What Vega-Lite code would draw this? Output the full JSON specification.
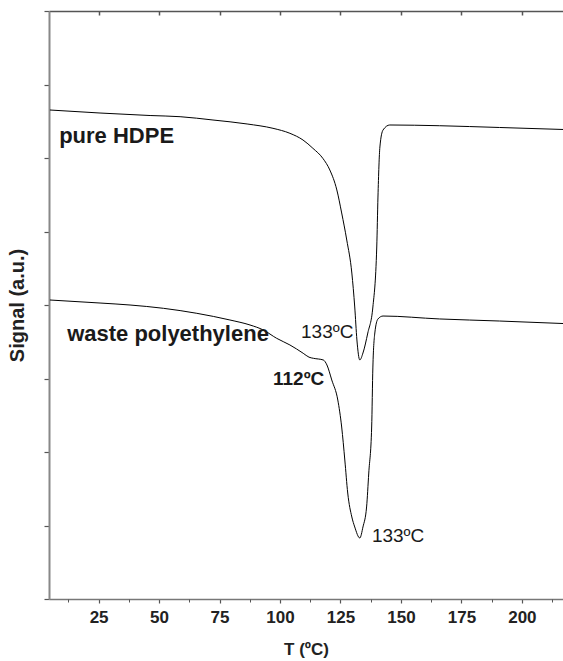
{
  "$schema": "https://vega.github.io/schema/vega-lite/v6.json",
  "width": 514,
  "height": 588,
  "autosize": {"type": "none"},
  "padding": {"left": 49, "top": 11, "right": 0, "bottom": 62},
  "background": "white",
  "config": {
    "view": {"stroke": null},
    "font": "Liberation Sans",
    "axis": {"grid": false}
  },
  "datasets": {
    "curves": [
      {"sample": "pure HDPE", "T": 4.9, "signal": 6.653},
      {"sample": "pure HDPE", "T": 25.6, "signal": 6.612},
      {"sample": "pure HDPE", "T": 46.3, "signal": 6.578},
      {"sample": "pure HDPE", "T": 58.7, "signal": 6.562},
      {"sample": "pure HDPE", "T": 72.3, "signal": 6.517},
      {"sample": "pure HDPE", "T": 86.4, "signal": 6.463},
      {"sample": "pure HDPE", "T": 97.1, "signal": 6.404},
      {"sample": "pure HDPE", "T": 104.1, "signal": 6.336},
      {"sample": "pure HDPE", "T": 109.5, "signal": 6.245},
      {"sample": "pure HDPE", "T": 113.6, "signal": 6.132},
      {"sample": "pure HDPE", "T": 117.7, "signal": 5.996},
      {"sample": "pure HDPE", "T": 120.6, "signal": 5.837},
      {"sample": "pure HDPE", "T": 123.5, "signal": 5.565},
      {"sample": "pure HDPE", "T": 125.5, "signal": 5.252},
      {"sample": "pure HDPE", "T": 127.6, "signal": 4.884},
      {"sample": "pure HDPE", "T": 129.7, "signal": 4.435},
      {"sample": "pure HDPE", "T": 130.9, "signal": 3.973},
      {"sample": "pure HDPE", "T": 131.8, "signal": 3.524},
      {"sample": "pure HDPE", "T": 133.0, "signal": 3.252},
      {"sample": "pure HDPE", "T": 134.3, "signal": 3.347},
      {"sample": "pure HDPE", "T": 136.3, "signal": 3.619},
      {"sample": "pure HDPE", "T": 138.4, "signal": 3.973},
      {"sample": "pure HDPE", "T": 140.0, "signal": 4.789},
      {"sample": "pure HDPE", "T": 140.5, "signal": 5.469},
      {"sample": "pure HDPE", "T": 141.3, "signal": 6.15},
      {"sample": "pure HDPE", "T": 142.6, "signal": 6.381},
      {"sample": "pure HDPE", "T": 145.4, "signal": 6.449},
      {"sample": "pure HDPE", "T": 166.0, "signal": 6.439},
      {"sample": "pure HDPE", "T": 190.8, "signal": 6.415},
      {"sample": "pure HDPE", "T": 217.0, "signal": 6.388},
      {"sample": "waste polyethylene", "T": 4.9, "signal": 4.068},
      {"sample": "waste polyethylene", "T": 25.6, "signal": 4.027},
      {"sample": "waste polyethylene", "T": 38.0, "signal": 4.0},
      {"sample": "waste polyethylene", "T": 51.8, "signal": 3.955},
      {"sample": "waste polyethylene", "T": 65.6, "signal": 3.887},
      {"sample": "waste polyethylene", "T": 79.3, "signal": 3.796},
      {"sample": "waste polyethylene", "T": 87.6, "signal": 3.728},
      {"sample": "waste polyethylene", "T": 93.1, "signal": 3.66},
      {"sample": "waste polyethylene", "T": 98.6, "signal": 3.547},
      {"sample": "waste polyethylene", "T": 104.1, "signal": 3.456},
      {"sample": "waste polyethylene", "T": 109.6, "signal": 3.343},
      {"sample": "waste polyethylene", "T": 112.0, "signal": 3.29},
      {"sample": "waste polyethylene", "T": 113.8, "signal": 3.275},
      {"sample": "waste polyethylene", "T": 117.9, "signal": 3.252},
      {"sample": "waste polyethylene", "T": 119.4, "signal": 3.184},
      {"sample": "waste polyethylene", "T": 121.4, "signal": 2.98},
      {"sample": "waste polyethylene", "T": 123.9, "signal": 2.707},
      {"sample": "waste polyethylene", "T": 125.5, "signal": 2.34},
      {"sample": "waste polyethylene", "T": 126.8, "signal": 1.891},
      {"sample": "waste polyethylene", "T": 128.0, "signal": 1.442},
      {"sample": "waste polyethylene", "T": 129.7, "signal": 1.116},
      {"sample": "waste polyethylene", "T": 130.9, "signal": 0.98},
      {"sample": "waste polyethylene", "T": 133.0, "signal": 0.83},
      {"sample": "waste polyethylene", "T": 134.3, "signal": 0.98},
      {"sample": "waste polyethylene", "T": 135.8, "signal": 1.252},
      {"sample": "waste polyethylene", "T": 136.7, "signal": 1.714},
      {"sample": "waste polyethylene", "T": 137.9, "signal": 2.34},
      {"sample": "waste polyethylene", "T": 138.4, "signal": 3.156},
      {"sample": "waste polyethylene", "T": 139.2, "signal": 3.619},
      {"sample": "waste polyethylene", "T": 140.5, "signal": 3.81},
      {"sample": "waste polyethylene", "T": 142.6, "signal": 3.85},
      {"sample": "waste polyethylene", "T": 166.0, "signal": 3.81},
      {"sample": "waste polyethylene", "T": 190.8, "signal": 3.782},
      {"sample": "waste polyethylene", "T": 217.0, "signal": 3.748}
    ],
    "labels": [
      {"kind": "sample", "text": "pure HDPE", "T": 8.7, "signal": 6.208},
      {"kind": "sample", "text": "waste polyethylene", "T": 12.0, "signal": 3.514},
      {"kind": "shoulder", "text": "112ºC", "T": 97.1, "signal": 2.912},
      {"kind": "peak", "text": "133ºC", "T": 108.7, "signal": 3.551},
      {"kind": "peak", "text": "133ºC", "T": 138.0, "signal": 0.78}
    ]
  },
  "layer": [
    {
      "data": {"name": "curves"},
      "transform": [{"filter": "datum.sample === 'pure HDPE'"}],
      "mark": {"type": "line", "color": "black", "strokeWidth": 1, "interpolate": "monotone", "clip": true},
      "encoding": {
        "x": {
          "field": "T", "type": "quantitative",
          "scale": {"domain": [4.5, 217], "nice": false, "zero": false},
          "axis": {
            "orient": "bottom",
            "values": [25, 50, 75, 100, 125, 150, 175, 200],
            "title": "T (ºC)",
            "titleFontSize": 17, "titleFontWeight": "bold", "titleColor": "#222", "titlePadding": 16,
            "labelFontSize": 17, "labelFontWeight": "bold", "labelColor": "#222", "labelPadding": 6,
            "tickSize": 4, "tickColor": "#555", "tickWidth": 1.2,
            "domainColor": "#777", "domainWidth": 1.5
          }
        },
        "y": {
          "field": "signal", "type": "quantitative",
          "scale": {"domain": [0, 8], "nice": false, "zero": false},
          "axis": {
            "orient": "left",
            "values": [0, 1, 2, 3, 4, 5, 6, 7, 8],
            "labels": false,
            "title": "Signal (a.u.)",
            "titleFontSize": 20, "titleFontWeight": "bold", "titleColor": "#222", "titlePadding": 16,
            "tickSize": 5, "tickColor": "#555", "tickWidth": 1.2,
            "domainColor": "#888", "domainWidth": 2
          }
        }
      }
    },
    {
      "data": {"name": "curves"},
      "transform": [{"filter": "datum.sample === 'waste polyethylene'"}],
      "mark": {"type": "line", "color": "black", "strokeWidth": 1, "interpolate": "monotone", "clip": true},
      "encoding": {
        "x": {
          "field": "T", "type": "quantitative",
          "axis": {
            "orient": "bottom",
            "values": [12.5, 37.5, 62.5, 87.5, 112.5, 137.5, 162.5, 187.5, 212.5],
            "labels": false, "domain": false, "title": null,
            "tickSize": 3, "tickColor": "#555", "tickWidth": 1
          }
        },
        "y": {"field": "signal", "type": "quantitative", "axis": null}
      }
    },
    {
      "data": {"name": "labels"},
      "transform": [{"filter": "datum.kind === 'sample'"}],
      "mark": {"type": "text", "align": "left", "baseline": "alphabetic", "fontSize": 22, "fontWeight": "bold", "color": "#1a1a1a"},
      "encoding": {
        "x": {
          "field": "T", "type": "quantitative",
          "axis": {
            "orient": "top",
            "offset": -4,
            "values": [25, 50, 75, 100, 125, 150, 175, 200],
            "labels": false, "domain": false, "title": null,
            "tickSize": 4, "tickColor": "#555", "tickWidth": 1.5
          }
        },
        "y": {"field": "signal", "type": "quantitative", "axis": null},
        "text": {"field": "text"}
      }
    },
    {
      "data": {"name": "labels"},
      "transform": [{"filter": "datum.kind === 'shoulder'"}],
      "mark": {"type": "text", "align": "left", "baseline": "alphabetic", "fontSize": 19, "fontWeight": "bold", "color": "#1a1a1a"},
      "encoding": {
        "x": {
          "field": "T", "type": "quantitative",
          "axis": {
            "orient": "top",
            "ticks": false, "labels": false, "title": null,
            "domainColor": "#555", "domainWidth": 1.5
          }
        },
        "y": {"field": "signal", "type": "quantitative", "axis": null},
        "text": {"field": "text"}
      }
    },
    {
      "data": {"name": "labels"},
      "transform": [{"filter": "datum.kind === 'peak'"}],
      "mark": {"type": "text", "align": "left", "baseline": "alphabetic", "fontSize": 19, "color": "#1a1a1a"},
      "encoding": {
        "x": {"field": "T", "type": "quantitative", "axis": null},
        "y": {"field": "signal", "type": "quantitative", "axis": null},
        "text": {"field": "text"}
      }
    }
  ],
  "resolve": {"axis": {"x": "independent", "y": "independent"}}
}
